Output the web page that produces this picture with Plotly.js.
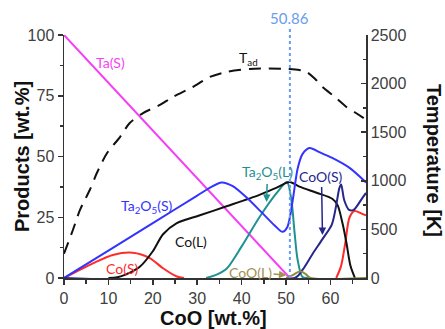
<!DOCTYPE html>
<html>
<head>
<meta charset="utf-8">
<script src="https://cdn.plot.ly/plotly-3.0.1.min.js"></script>
<style>html,body{margin:0;padding:0;background:#fff}#chart{width:445px;height:329px}</style>
</head>
<body>
<div id="chart"></div>
<script>
// CoO content [wt.%] and product amounts [wt.%]
const taS_x = [0, 50.86, 52];
const taS_y = [100, 0, 0];

const tad_x = [0, 2, 3.6, 5.8, 7.4, 9.7, 12.6, 14.8, 17.8, 21.6, 24.5, 29, 32.8, 36.6, 41.8, 46, 50.3, 53, 54.6, 56.5, 58.2, 61.3, 63.6, 66, 68];
const tad_y = [250, 494, 700, 905, 1080, 1286, 1450, 1595, 1697, 1780, 1862, 1965, 2068, 2120, 2150, 2155, 2150, 2140, 2120, 2050, 1965, 1852, 1760, 1690, 1630];

const ta2o5S_x = [0, 10, 20, 30, 33, 35.5, 38, 41, 44.5, 47.5, 49.2, 50.3, 51.5, 52.6, 53.7, 55.3, 57.5, 60.4, 64.3, 68];
const ta2o5S_y = [0, 11.3, 22.6, 33.9, 37.3, 39.3, 37.8, 33.3, 27, 21.5, 19, 21, 32, 45, 51, 53.5, 51.8, 49.4, 45.3, 39.3];

const coL_x = [10, 12, 14, 17, 20, 22.3, 25.4, 30.6, 36.6, 44, 48, 50.8, 53, 57, 60.4, 61.6, 62.7, 63.6, 64.5, 65.5];
const coL_y = [0, 0.3, 1.5, 4.5, 11, 18, 22.6, 25.8, 29.5, 34.2, 37.3, 39.5, 37.6, 35, 32.6, 30, 22.6, 14.4, 5, 0];

const coS_x = [0, 3, 6.5, 11, 15.5, 19.3, 22.3, 25.4, 27, null, 61.3, 62.4, 63.3, 64.3, 65.4, 67, 68];
const coS_y = [0, 2.8, 6, 9.5, 10.4, 8.2, 4, 0.6, 0, null, 0, 5, 14, 25, 27.6, 26.5, 25.8];

const ta2o5L_x = [32, 34.5, 36.6, 40, 44, 47.9, 50.2, 51.2, 51.9, 52.6, 53.7, 55];
const ta2o5L_y = [0, 1.5, 3.8, 13, 25, 35, 39.5, 32, 19, 7.5, 0.4, 0];

const cooS_x = [0, 52, 53.7, 56, 58.2, 60.3, 61.3, 62, 62.4, 63.1, 64.2, 65.2, 67.2, 68];
const cooS_y = [0, 0, 3.3, 10, 16, 22, 30, 37, 38.5, 32, 28, 28, 33, 35];

const cooL_x = [50, 51.5, 53.2, 54.5, 55.5, 68];
const cooL_y = [0, 1.2, 2.8, 1.5, 0, 0];

const tadMark = 50.86;

const C = {
  mag: '#f53ff5', blue: '#3333ff', red: '#ff2a2a', teal: '#1f9191',
  navy: '#26268c', olive: '#8c8c3c', black: '#111111', dot: '#6a9cf0'
};

function tr(x, y, color, extra) {
  return Object.assign({
    x: x, y: y, type: 'scatter', mode: 'lines',
    line: {color: color, width: 2, shape: 'spline', smoothing: 0.8},
    connectgaps: false, hoverinfo: 'skip', showlegend: false
  }, extra || {});
}

const data = [
  tr(tad_x, tad_y, C.black, {yaxis: 'y2', line: {color: C.black, width: 2, dash: '12px,8px', shape: 'spline', smoothing: 0.8}}),
  tr(taS_x, taS_y, C.mag, {line: {color: C.mag, width: 2}}),
  tr(ta2o5L_x, ta2o5L_y, C.teal),
  tr(coS_x, coS_y, C.red),
  tr(coL_x, coL_y, C.black),
  tr(ta2o5S_x, ta2o5S_y, C.blue),
  tr(cooS_x, cooS_y, C.navy),
  tr(cooL_x, cooL_y, C.olive)
];

const lab = {family: 'Lato, "Noto Sans", sans-serif', size: 14};
const ttl = {family: '"Liberation Sans", Arial, sans-serif', size: 20, color: '#111'};
const tickf = {family: '"Liberation Sans", Arial, sans-serif', size: 16, color: '#404040'};

function A(o) { return Object.assign({xanchor: 'center', yanchor: 'middle', showarrow: false}, o); }
function P(px, py) { return {xref: 'paper', yref: 'paper', x: (px - 64) / 302, y: (278 - py) / 243}; }

const layout = {
  width: 445, height: 329,
  margin: {l: 64, r: 79, t: 35, b: 51},
  paper_bgcolor: '#fff', plot_bgcolor: '#fff',
  showlegend: false,
  xaxis: {
    range: [0, 68], dtick: 10, tick0: 0, ticks: 'outside', ticklen: 5, tickwidth: 1.5, tickcolor: '#333',
    minor: {dtick: 5, ticks: 'outside', ticklen: 4, tickcolor: '#333'},
    showline: true, linecolor: '#333', linewidth: 1.5, showgrid: false, zeroline: false,
    tickfont: tickf, fixedrange: true
  },
  yaxis: {
    range: [0, 100], dtick: 25, ticks: 'outside', ticklen: 5, tickwidth: 1.5, tickcolor: '#333',
    minor: {dtick: 12.5, ticks: 'outside', ticklen: 3, tickcolor: '#333'},
    showline: true, linecolor: '#333', linewidth: 1.5, showgrid: false, zeroline: false,
    tickfont: tickf
  },
  yaxis2: {
    range: [0, 2500], dtick: 500, overlaying: 'y', side: 'right', anchor: 'x',
    ticks: 'inside', ticklen: 5, tickwidth: 1.5, tickcolor: '#333',
    minor: {dtick: 250, ticks: 'inside', ticklen: 3, tickcolor: '#333'},
    showline: true, linecolor: '#333', linewidth: 1.5, showgrid: false, zeroline: false,
    tickfont: tickf
  },
  shapes: [{
    type: 'line', xref: 'x', yref: 'paper', x0: tadMark, x1: tadMark, y0: 0, y1: 1.03,
    line: {color: C.dot, width: 2, dash: 'dot'}
  }],
  annotations: [
    A(Object.assign(P(22, 157), {text: '<b>Products [wt.%]</b>', textangle: -90, font: ttl})),
    A(Object.assign(P(213, 318), {text: '<b>CoO [wt.%]</b>', font: ttl})),
    A(Object.assign(P(434, 160), {text: '<b>Temperature [K]</b>', textangle: 90, font: ttl})),
    A({xref: 'x', yref: 'paper', x: tadMark, y: (278 - 18) / 243, text: String(tadMark), font: Object.assign({}, lab, {color: C.dot, size: 15})}),
    A(Object.assign(P(110, 62), {text: 'Ta(S)', font: Object.assign({}, lab, {color: C.mag})})),
    A(Object.assign(P(248, 58), {text: 'T<sub>ad</sub>', font: Object.assign({}, lab, {color: '#111'})})),
    A(Object.assign(P(147, 206), {text: 'Ta<sub>2</sub>O<sub>5</sub>(S)', font: Object.assign({}, lab, {color: C.blue})})),
    A(Object.assign(P(191, 241), {text: 'Co(L)', font: Object.assign({}, lab, {color: '#111'})})),
    A(Object.assign(P(122, 268), {text: 'Co(S)', font: Object.assign({}, lab, {color: C.red})})),
    {xref: 'x', yref: 'y', x: 45.6, y: 31.3, ax: 1, ay: -29, text: 'Ta<sub>2</sub>O<sub>5</sub>(L)', showarrow: true,
     arrowhead: 2, arrowsize: 1, arrowwidth: 1.5, arrowcolor: C.teal, standoff: 0, font: Object.assign({}, lab, {color: C.teal})},
    {xref: 'x', yref: 'y', x: 58.2, y: 17.7, ax: -1, ay: -58, text: 'CoO(S)', showarrow: true,
     arrowhead: 2, arrowsize: 1, arrowwidth: 1.5, arrowcolor: C.navy, standoff: 0, font: Object.assign({}, lab, {color: C.navy})},
    {xref: 'x', yref: 'y', x: 50.1, y: 1.2, ax: -36, ay: -3, text: 'CoO(L)', showarrow: true,
     arrowhead: 2, arrowsize: 1, arrowwidth: 1.5, arrowcolor: '#a39150', standoff: 0, font: Object.assign({}, lab, {color: '#a39150'})}
  ]
};

Plotly.newPlot('chart', data, layout, {staticPlot: true, displayModeBar: false});
</script>
</body>
</html>
